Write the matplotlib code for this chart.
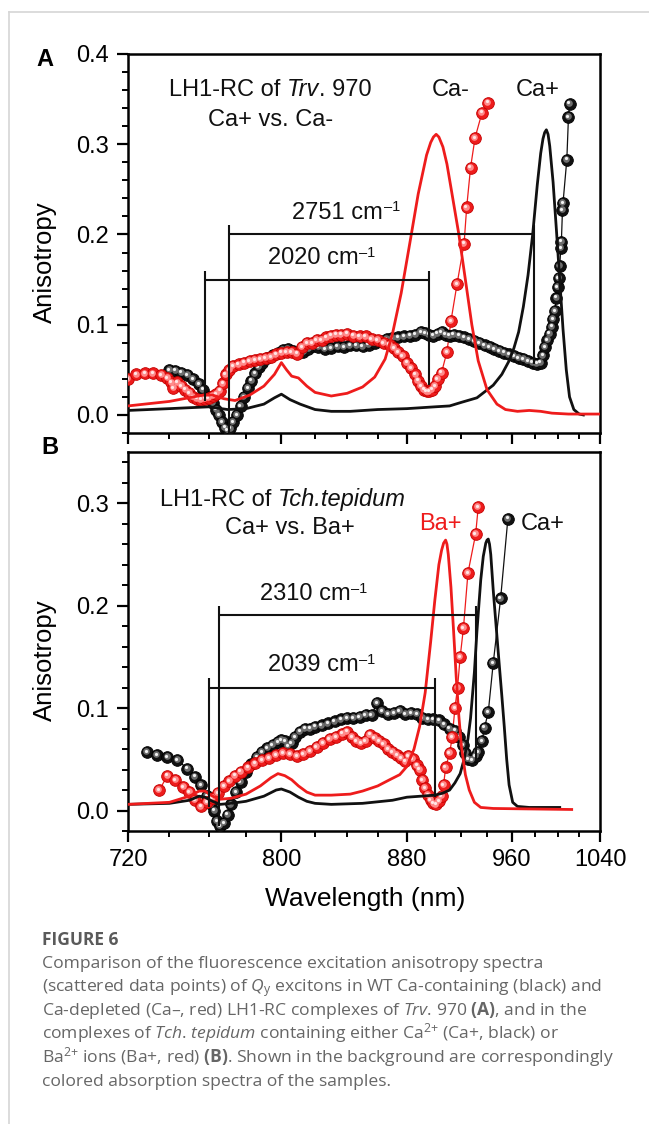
import matplotlib

matplotlib.use("Agg")
import matplotlib.pyplot as plt
import numpy as np
from matplotlib.lines import Line2D
from matplotlib.ticker import FixedLocator, FuncFormatter
from matplotlib.transforms import offset_copy

plt.rcParams.update({
    "font.family": "Liberation Sans",
    "mathtext.fontset": "custom",
    "mathtext.rm": "Open Sans",
    "mathtext.it": "Open Sans:italic",
    "mathtext.bf": "Open Sans:bold",
    "axes.linewidth": 1.8,
    "xtick.direction": "out",
    "ytick.direction": "out",
})

RED = "#ee1c1c"
BLACK = "#111111"

# ---------------- Panel A: LH1-RC of Trv. 970 ----------------
a_abs_cap_wl = [720, 740, 760, 770, 780, 790, 796, 800, 805, 811, 820, 830, 842, 860, 880, 900,
                911, 920, 932, 945, 952, 958, 962, 966, 970, 974, 978, 982, 985, 987, 988.5, 990,
                991.5, 993, 996, 999, 1002, 1005, 1008, 1011, 1015, 1020, 1024]
a_abs_cap = [0.005, 0.007, 0.009, 0.006, 0.007, 0.012, 0.019, 0.023, 0.017, 0.012, 0.006, 0.004,
             0.004, 0.006, 0.007, 0.009, 0.010, 0.014, 0.019, 0.033, 0.045, 0.060, 0.074, 0.092,
             0.12, 0.155, 0.2, 0.255, 0.290, 0.306, 0.313, 0.316, 0.311, 0.298, 0.258, 0.205,
             0.15, 0.095, 0.05, 0.02, 0.006, 0.001, 0.0]

a_abs_cam_wl = [720, 740, 757, 762, 768, 774, 782, 790, 796, 800, 803, 806, 810, 815, 820, 830,
                840, 850, 858, 865, 870, 876, 882, 888, 894, 897, 899, 901, 903, 906, 909, 912,
                918, 923, 928, 933, 940, 948, 955, 965, 975, 985, 995, 1010, 1025, 1040]
a_abs_cam = [0.010, 0.015, 0.022, 0.022, 0.018, 0.016, 0.022, 0.032, 0.045, 0.058, 0.050, 0.043,
             0.041, 0.032, 0.025, 0.021, 0.024, 0.031, 0.042, 0.062, 0.090, 0.135, 0.19, 0.245,
             0.288, 0.302, 0.308, 0.311, 0.308, 0.297, 0.278, 0.252, 0.20, 0.15, 0.10, 0.06,
             0.028, 0.012, 0.006, 0.004, 0.005, 0.004, 0.002, 0.001, 0.001, 0.001]

a_ani_cap_wl = [740, 743, 746, 749, 752, 755, 757, 760, 762, 764, 765.5, 767, 768.5, 770, 771.5,
                773, 775, 777, 779, 781, 783, 785, 787, 789, 792, 795, 798, 801, 804, 807, 810,
                813, 816, 819, 822, 826, 830, 834, 838, 842, 846, 850, 854, 858, 862, 866, 870,
                874, 878, 882, 886, 890, 893, 896, 899, 902, 905, 908, 911, 914, 918, 922, 926,
                930, 934, 938, 942, 946, 950, 954, 958, 962, 966, 970, 974, 978, 982, 985, 987,
                989, 991, 993, 995, 996, 997.5, 999, 1000, 1001, 1002, 1003, 1003.5, 1004.5,
                1005, 1008.5, 1010, 1011]
a_ani_cap = [0.050, 0.049, 0.047, 0.044, 0.040, 0.034, 0.028, 0.020, 0.013, 0.006, 0.000, -0.008,
             -0.014, -0.017, -0.015, -0.008, 0.000, 0.010, 0.020, 0.030, 0.038, 0.046, 0.053,
             0.058, 0.063, 0.066, 0.069, 0.072, 0.073, 0.071, 0.069, 0.070, 0.073, 0.076, 0.075,
             0.073, 0.074, 0.076, 0.075, 0.077, 0.077, 0.076, 0.078, 0.080, 0.082, 0.084, 0.085,
             0.086, 0.087, 0.088, 0.089, 0.092, 0.091, 0.089, 0.088, 0.090, 0.092, 0.089, 0.088,
             0.089, 0.088, 0.086, 0.084, 0.082, 0.080, 0.077, 0.075, 0.073, 0.071, 0.069, 0.067,
             0.065, 0.063, 0.062, 0.060, 0.058, 0.057, 0.058, 0.066, 0.075, 0.083, 0.090, 0.098,
             0.106, 0.115, 0.130, 0.142, 0.152, 0.165, 0.185, 0.192, 0.227, 0.235, 0.283, 0.330,
             0.345]

a_ani_cam_wl = [720, 724, 728, 732, 736, 739, 741, 742, 744, 746, 748, 750, 752, 754, 756, 758,
                760, 762, 764, 766, 767.5, 769, 771, 773, 776, 779, 782, 785, 788, 791, 794, 797,
                800, 803, 806, 809, 812, 815, 818, 821, 824, 827, 830, 833, 836, 840, 844, 848,
                852, 856, 860, 864, 868, 871, 874, 877, 880, 883, 886, 888, 890, 892, 894, 896,
                898, 900, 902, 905, 909, 912, 916.6, 922, 924, 927, 930.5, 936, 941]
a_ani_cam = [0.040, 0.045, 0.046, 0.046, 0.044, 0.041, 0.036, 0.030, 0.036, 0.032, 0.028, 0.024,
             0.020, 0.018, 0.017, 0.018, 0.019, 0.021, 0.023, 0.027, 0.035, 0.045, 0.050, 0.054,
             0.056, 0.058, 0.060, 0.061, 0.062, 0.063, 0.064, 0.067, 0.069, 0.070, 0.070, 0.068,
             0.075, 0.080, 0.080, 0.083, 0.083, 0.086, 0.088, 0.089, 0.089, 0.090, 0.088, 0.087,
             0.087, 0.084, 0.083, 0.080, 0.078, 0.074, 0.070, 0.065, 0.058, 0.052, 0.045, 0.038,
             0.032, 0.028, 0.026, 0.026, 0.028, 0.032, 0.040, 0.047, 0.070, 0.104, 0.145, 0.190,
             0.230, 0.274, 0.307, 0.335, 0.346]

# ---------------- Panel B: LH1-RC of Tch. tepidum ----------------
b_abs_cap_wl = [720, 740, 750, 755, 758, 762, 766, 772, 780, 790, 797, 800, 805, 810, 815, 820,
                830, 850, 870, 880, 890, 900, 906, 911, 915, 919, 922, 925, 927, 930, 932, 935,
                937, 939, 940, 941, 942, 943, 945, 947, 949.5, 952, 954, 956, 958, 961, 965, 975,
                1002]
b_abs_cap = [0.006, 0.007, 0.010, 0.014, 0.013, 0.009, 0.006, 0.007, 0.009, 0.014, 0.020, 0.021,
             0.018, 0.013, 0.009, 0.007, 0.006, 0.007, 0.010, 0.013, 0.014, 0.015, 0.017, 0.020,
             0.027, 0.036, 0.050, 0.070, 0.090, 0.135, 0.175, 0.225, 0.248, 0.261, 0.264, 0.265,
             0.260, 0.250, 0.215, 0.185, 0.148, 0.112, 0.082, 0.050, 0.025, 0.008, 0.004, 0.003,
             0.003]

b_abs_bap_wl = [720, 740, 750, 755, 758, 762, 766, 772, 780, 788, 794, 798, 802, 806, 810, 815,
                820, 830, 842, 850, 860, 868, 875, 880, 885, 889, 893, 897, 900, 903, 905, 906.5,
                908, 909, 910, 912, 914, 916, 918, 920, 923, 926, 930, 935, 945, 1013]
b_abs_bap = [0.006, 0.008, 0.014, 0.019, 0.019, 0.014, 0.011, 0.012, 0.016, 0.024, 0.032, 0.036,
             0.034, 0.030, 0.024, 0.018, 0.015, 0.015, 0.016, 0.019, 0.024, 0.030, 0.035, 0.043,
             0.060, 0.082, 0.115, 0.165, 0.205, 0.240, 0.254, 0.261, 0.264, 0.260, 0.250, 0.218,
             0.175, 0.130, 0.092, 0.062, 0.035, 0.020, 0.008, 0.003, 0.002, 0.001]

b_ani_cap_wl = [729, 734, 739, 744, 749, 753, 756, 759, 761, 763, 764.5, 766, 768, 770, 772,
                774.5, 777, 780, 783, 786, 789, 792, 795, 798, 800, 802, 804, 806, 808, 811, 814,
                817, 820, 824, 828, 832, 836, 840, 844, 848, 852, 856, 859.5, 863, 867, 871, 875,
                879, 883, 887, 891, 895, 899, 903, 907, 911, 915, 918, 921, 923, 925, 928, 931,
                933, 936, 938, 941, 945, 951, 957]
b_ani_cap = [0.057, 0.054, 0.052, 0.049, 0.041, 0.033, 0.025, 0.014, 0.006, 0.000, -0.010, -0.015,
             -0.012, -0.004, 0.006, 0.018, 0.028, 0.038, 0.045, 0.052, 0.057, 0.061, 0.064, 0.067,
             0.069, 0.068, 0.063, 0.066, 0.072, 0.077, 0.080, 0.080, 0.082, 0.083, 0.085, 0.087,
             0.089, 0.090, 0.090, 0.091, 0.093, 0.093, 0.105, 0.097, 0.094, 0.095, 0.097, 0.094,
             0.095, 0.094, 0.090, 0.089, 0.089, 0.088, 0.084, 0.080, 0.078, 0.072, 0.064, 0.056,
             0.050, 0.049, 0.053, 0.057, 0.068, 0.081, 0.096, 0.144, 0.207, 0.285]

b_ani_bap_wl = [735, 739, 743, 747, 750, 753, 756, 759, 762, 765, 768, 771, 774, 777, 781, 785,
                789, 793, 797, 801, 805, 809, 813, 817, 821, 825, 829, 833, 837, 840, 843, 846,
                849, 852, 855, 858, 861, 864, 867, 870, 873, 876, 879, 881, 884, 887, 889, 891,
                893, 895, 897, 899, 901, 903, 905, 906.5, 908, 911, 913, 915, 917, 919, 921.5,
                925, 931, 933]
b_ani_bap = [0.020, 0.034, 0.030, 0.023, 0.018, 0.010, 0.004, 0.008, 0.012, 0.017, 0.024, 0.029,
             0.034, 0.038, 0.042, 0.046, 0.049, 0.051, 0.054, 0.056, 0.055, 0.053, 0.055, 0.058,
             0.062, 0.066, 0.070, 0.072, 0.075, 0.077, 0.072, 0.068, 0.066, 0.068, 0.074, 0.071,
             0.068, 0.065, 0.060, 0.057, 0.054, 0.051, 0.048, 0.053, 0.050, 0.044, 0.040, 0.030,
             0.022, 0.015, 0.010, 0.007, 0.006, 0.009, 0.014, 0.025, 0.042, 0.056, 0.072, 0.100,
             0.120, 0.150, 0.178, 0.232, 0.270, 0.296]

MAJOR_WL = [720, 800, 880, 960, 1040]
MINOR_WL = [w for w in range(720, 1041, 20) if w not in MAJOR_WL]


def wl_scale(x):
    # axis is linear in wavenumber, labelled in nm
    x = np.asarray(x, dtype=float)
    with np.errstate(divide="ignore", invalid="ignore"):
        return -1e7 / x


fig = plt.figure(figsize=(6.49, 11.24), dpi=100)
fig.patch.set_facecolor("white")
renderer = fig.canvas.get_renderer()


def rich(ax, x, y, parts, size=17, coords="axes fraction", color=BLACK):
    """parts: list of (text, style, kind) drawn one after the other, centred on x."""
    first = None
    prev = None
    arts = []
    for text, style, kind in parts:
        if prev is None:
            t = ax.annotate(text, xy=(x, y), xycoords=coords, xytext=(0, 0),
                            textcoords="offset points", ha="left", va="center",
                            fontsize=size, fontstyle=style, color=color, zorder=8)
            first = t
        elif kind == "sup":
            t = ax.annotate(text, xy=(1, 1), xycoords=prev, xytext=(0.5, 1.0),
                            textcoords="offset points", ha="left", va="top",
                            fontsize=size * 0.62, fontstyle=style, color=color, zorder=8)
        else:
            t = ax.annotate(text, xy=(1, 0), xycoords=prev, ha="left", va="bottom",
                            fontsize=size, fontstyle=style, color=color, zorder=8)
        arts.append(t)
        if kind != "sup":
            prev = t
    total = sum(a.get_window_extent(renderer).width for a in arts)
    first.xyann = (-total / 2 * 72 / fig.dpi, 0)


def balls(ax, wl, val, base, edge, mid, hi):
    ax.plot(wl, val, "-", color=base, lw=0.9, zorder=3)
    ax.plot(wl, val, "o", ms=8.4, mfc=base, mec=edge, mew=0.6, lw=0, zorder=4)
    t1 = offset_copy(ax.transData, fig=fig, x=-0.6, y=0.6, units="points")
    ax.plot(wl, val, "o", ms=4.8, mfc=mid, mec="none", lw=0, zorder=4, transform=t1)
    t2 = offset_copy(ax.transData, fig=fig, x=-0.9, y=0.9, units="points")
    ax.plot(wl, val, "o", ms=2.3, mfc=hi, mec="none", lw=0, zorder=4, transform=t2)


def bracket(ax, left, right, y_bar, y_top, y_left, y_right):
    kw = dict(color=BLACK, lw=1.5, zorder=6, solid_capstyle="butt")
    ax.plot([left, right], [y_bar, y_bar], **kw)
    ax.plot([left, left], [y_top, y_left], **kw)
    ax.plot([right, right], [y_top, y_right], **kw)


def style_axes(ax, ymin, ymax, yticks, labels_x):
    ax.set_xlim(720, 1040)
    ax.set_xscale("function", functions=(wl_scale, wl_scale))
    ax.set_xlim(720, 1040)
    ax.set_ylim(ymin, ymax)
    ax.xaxis.set_major_locator(FixedLocator(MAJOR_WL))
    ax.xaxis.set_minor_locator(FixedLocator(MINOR_WL))
    ax.xaxis.set_major_formatter(FuncFormatter(lambda v, p: f"{v:.0f}"))
    ax.yaxis.set_major_locator(FixedLocator(yticks))
    ax.yaxis.set_minor_locator(FixedLocator(np.round(np.arange(-0.02, ymax + 1e-9, 0.02), 3)))
    ax.yaxis.set_major_formatter(FuncFormatter(lambda v, p: f"{v:.1f}"))
    ax.tick_params(which="major", length=8, width=1.6, labelsize=17)
    ax.tick_params(which="minor", length=4.2, width=1.4)
    ax.tick_params(axis="y", pad=6)
    ax.tick_params(axis="x", pad=5, labelbottom=labels_x)
    for s in ax.spines.values():
        s.set_linewidth(1.8)


# ---------------- panel A ----------------
axA = fig.add_axes([128 / 649, 1 - 433 / 1124, 472 / 649, 379 / 1124])
style_axes(axA, -0.02, 0.4, [0.0, 0.1, 0.2, 0.3, 0.4], False)
balls(axA, a_ani_cap_wl, a_ani_cap, BLACK, "#000000", "#6e6e6e", "#f2f2f2")
balls(axA, a_ani_cam_wl, a_ani_cam, RED, "#c40000", "#ff8a8a", "#ffe6e6")
axA.plot(a_abs_cap_wl, a_abs_cap, color=BLACK, lw=2.0, zorder=5)
axA.plot(a_abs_cam_wl, a_abs_cam, color=RED, lw=2.0, zorder=5)
bracket(axA, 770.8, 979.3, 0.201, 0.21, -0.02, 0.057)
bracket(axA, 758.0, 895.8, 0.150, 0.16, 0.015, 0.033)
rich(axA, 839, 0.224, [("2751 cm", "normal", ""), ("\u20131", "normal", "sup")], coords="data")
rich(axA, 823.7, 0.174, [("2020 cm", "normal", ""), ("\u20131", "normal", "sup")], coords="data")
rich(axA, 0.301, 0.905, [("LH1-RC of ", "normal", ""), ("Trv", "italic", ""), (". 970", "normal", "")])
rich(axA, 0.301, 0.826, [("Ca+ vs. Ca-", "normal", "")])
rich(axA, 0.684, 0.905, [("Ca-", "normal", "")])
rich(axA, 0.869, 0.905, [("Ca+", "normal", "")])

# ---------------- panel B ----------------
axB = fig.add_axes([128 / 649, 1 - 831 / 1124, 472 / 649, 379 / 1124])
style_axes(axB, -0.02, 0.35, [0.0, 0.1, 0.2, 0.3], True)
balls(axB, b_ani_cap_wl, b_ani_cap, BLACK, "#000000", "#6e6e6e", "#f2f2f2")
balls(axB, b_ani_bap_wl, b_ani_bap, RED, "#c40000", "#ff8a8a", "#ffe6e6")
axB.plot(b_abs_cap_wl, b_abs_cap, color=BLACK, lw=2.0, zorder=5)
axB.plot(b_abs_bap_wl, b_abs_bap, color=RED, lw=2.0, zorder=5)
bracket(axB, 765.4, 931.0, 0.191, 0.20, -0.015, 0.049)
bracket(axB, 760.0, 899.8, 0.120, 0.129, 0.003, 0.013)
rich(axB, 819, 0.211, [("2310 cm", "normal", ""), ("\u20131", "normal", "sup")], coords="data")
rich(axB, 823.7, 0.142, [("2039 cm", "normal", ""), ("\u20131", "normal", "sup")], coords="data")
rich(axB, 0.328, 0.873, [("LH1-RC of ", "normal", ""), ("Tch.tepidum", "italic", "")])
rich(axB, 0.343, 0.80, [("Ca+ vs. Ba+", "normal", "")])
rich(axB, 0.661, 0.81, [("Ba+", "normal", "")], color=RED)
rich(axB, 0.879, 0.81, [("Ca+", "normal", "")])

# ---------------- labels ----------------
fig.text(45 / 649, 1 - 59.5 / 1124, "A", fontsize=17, fontweight="bold", ha="center", va="center")
fig.text(50 / 649, 1 - 447.5 / 1124, "B", fontsize=17, fontweight="bold", ha="center", va="center")
fig.text(45 / 649, 1 - 262 / 1124, "Anisotropy", fontsize=18.5, rotation=90, ha="center", va="center")
fig.text(45 / 649, 1 - 660 / 1124, "Anisotropy", fontsize=18.5, rotation=90, ha="center", va="center")
fig.text(365 / 649, 1 - 899 / 1124, "Wavelength (nm)", fontsize=19, ha="center", va="center")

# ---------------- caption ----------------
CAP = "#666666"
fig.text(42 / 649, 1 - 945 / 1124, "FIGURE 6", family="Open Sans", fontweight="bold",
         fontsize=12.5, color="#5a5a5a", ha="left", va="baseline")
caption = [
    "Comparison of the fluorescence excitation anisotropy spectra",
    r"(scattered data points) of $Q_\mathrm{y}$ excitons in WT Ca-containing (black) and",
    r"Ca-depleted (Ca–, red) LH1-RC complexes of $\mathit{Trv}$. 970 $\mathbf{(A)}$, and in the",
    r"complexes of $\mathit{Tch}$. $\mathit{tepidum}$ containing either Ca$^{2{+}}$ (Ca+, black) or",
    r"Ba$^{2{+}}$ ions (Ba+, red) $\mathbf{(B)}$. Shown in the background are correspondingly",
    "colored absorption spectra of the samples.",
]
for i, line in enumerate(caption):
    fig.text(42 / 649, 1 - (968 + 23.5 * i) / 1124, line, family="Open Sans",
             fontsize=12.6, color=CAP, ha="left", va="baseline")

# page frame
fig.add_artist(Line2D([9 / 649, 1], [1 - 12 / 1124] * 2, transform=fig.transFigure,
                      color="#d6d6d6", lw=1.2))
fig.add_artist(Line2D([9 / 649] * 2, [0, 1 - 12 / 1124], transform=fig.transFigure,
                      color="#d6d6d6", lw=1.2))

fig.savefig("out.png", dpi=100, facecolor="white")
